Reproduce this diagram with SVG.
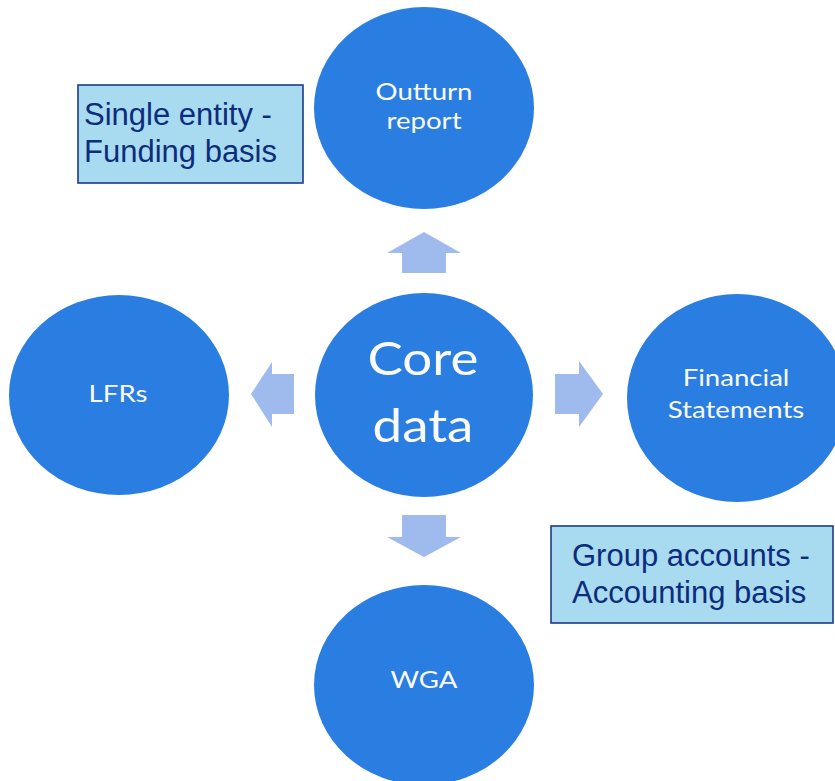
<svg xmlns="http://www.w3.org/2000/svg" width="835" height="781" viewBox="0 0 835 781">
  <style>
    .bubble { fill: #2A7DE1; }
    .bubble-text { fill: #FAFAFA; font-family: Lato, "Open Sans", "DejaVu Sans", sans-serif; font-size: 24px; text-anchor: middle; }
    .core-text { font-size: 46px; }
    .flow { fill: #9FBBEE; }
    .note { fill: #A8DAF0; stroke: #1D3A8A; stroke-width: 1.6; }
    .note-text { fill: #0E2C7C; font-family: "Liberation Sans", Arial, sans-serif; font-size: 31px; }
  </style>
  <rect width="835" height="781" fill="#FFFFFF"/>

  <!-- block arrows leading out of the core -->
  <g id="connectors">
    <polygon class="flow" points="402,273 446,273 446,253 461,253 424,232 387,253 402,253"/>
    <polygon class="flow" points="402,515 446,515 446,537 461,537 424,557 387,537 402,537"/>
    <polygon class="flow" points="294,374 294,414 272,414 272,427 251,394 272,362 272,374"/>
    <polygon class="flow" points="555,374 555,414 579,414 579,427 603,394 579,361 579,374"/>
  </g>

  <g id="outturn">
    <ellipse class="bubble" cx="424" cy="108" rx="110" ry="101"/>
    <g transform="translate(424,0) scale(1.15,1)">
      <text class="bubble-text" x="0" y="100">Outturn</text>
      <text class="bubble-text" x="0" y="129">report</text>
    </g>
  </g>

  <g id="lfrs">
    <ellipse class="bubble" cx="119" cy="395" rx="110" ry="100"/>
    <g transform="translate(118,0) scale(1.15,1)">
      <text class="bubble-text" x="0" y="402">LFRs</text>
    </g>
  </g>

  <g id="core">
    <ellipse class="bubble" cx="424" cy="395" rx="109" ry="102"/>
    <g transform="translate(423,0) scale(1.15,1)">
      <text class="bubble-text core-text" x="0" y="375">Core</text>
      <text class="bubble-text core-text" x="0" y="442">data</text>
    </g>
  </g>

  <g id="financial">
    <ellipse class="bubble" cx="737" cy="398" rx="110" ry="104"/>
    <g transform="translate(736,0) scale(1.15,1)">
      <text class="bubble-text" x="0" y="386">Financial</text>
      <text class="bubble-text" x="0" y="418">Statements</text>
    </g>
  </g>

  <g id="wga">
    <ellipse class="bubble" cx="424" cy="685" rx="110" ry="100"/>
    <g transform="translate(424,0) scale(1.15,1)">
      <text class="bubble-text" x="0" y="688">WGA</text>
    </g>
  </g>

  <g id="note-funding">
    <rect class="note" x="78" y="85" width="225" height="98"/>
    <text class="note-text" x="84" y="125">Single entity -</text>
    <text class="note-text" x="84" y="162">Funding basis</text>
  </g>

  <g id="note-accounting">
    <rect class="note" x="551" y="526" width="282" height="97"/>
    <text class="note-text" x="572" y="566">Group accounts -</text>
    <text class="note-text" x="572" y="603">Accounting basis</text>
  </g>
</svg>
